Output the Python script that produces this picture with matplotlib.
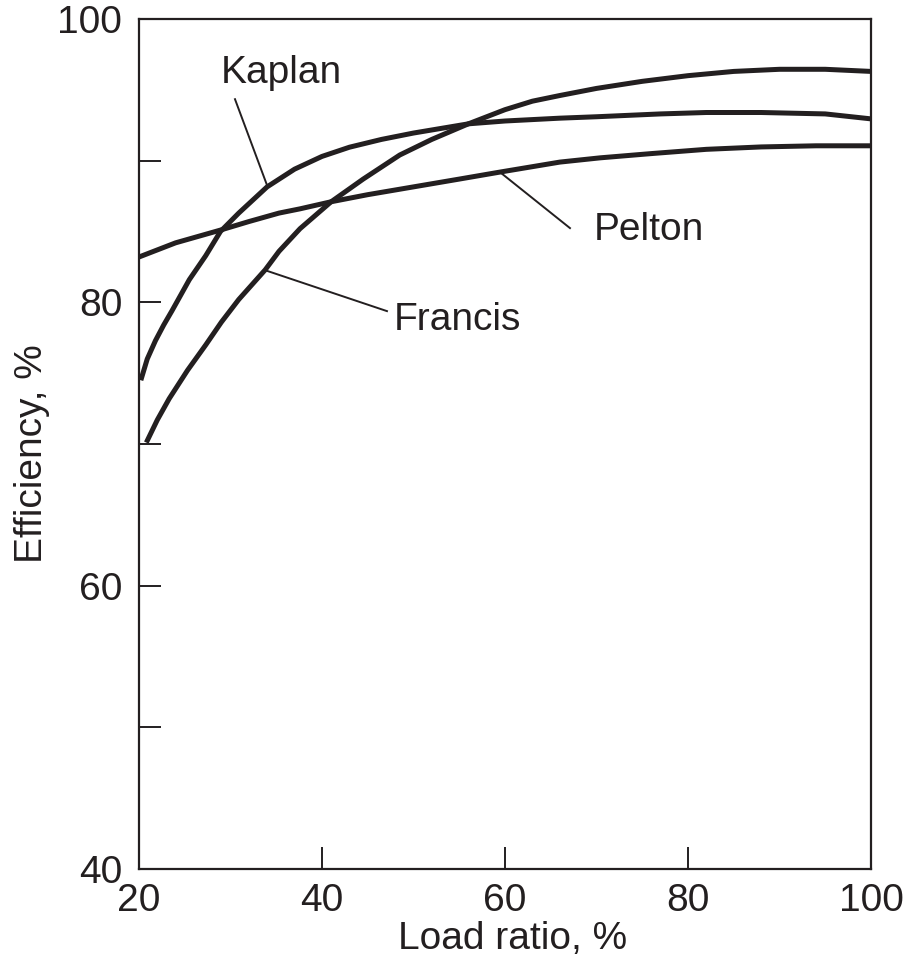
import matplotlib
matplotlib.use("Agg")
import matplotlib.pyplot as plt

plt.rcParams['font.family'] = ['Liberation Sans', 'DejaVu Sans']

INK = '#231f20'

# ---- data ----
francis_x = [20.8, 22.0, 23.3, 25.3, 27.3, 29.0, 30.9, 33.8, 35.3, 37.6, 41.0, 44.5, 48.5,
             52.0, 56.0, 60.0, 63.0, 66.0, 70.0, 75.0, 80.0, 85.0, 90.0, 95.0, 100.0]
francis_y = [70.1, 71.7, 73.2, 75.2, 77.0, 78.6, 80.2, 82.3, 83.6, 85.2, 87.1, 88.7, 90.4,
             91.5, 92.6, 93.6, 94.2, 94.6, 95.1, 95.6, 96.0, 96.3, 96.45, 96.45, 96.3]

kaplan_x = [20.2, 20.9, 21.8, 22.7, 23.6, 25.5, 27.3, 28.9, 30.9, 34.0, 37.0, 40.0, 43.0,
            46.5, 50.0, 56.0, 60.0, 66.0, 70.0, 77.0, 82.0, 88.0, 95.0, 100.0]
kaplan_y = [74.5, 76.0, 77.3, 78.4, 79.4, 81.6, 83.3, 85.0, 86.3, 88.15, 89.4, 90.3, 90.95,
            91.5, 91.95, 92.6, 92.8, 93.0, 93.1, 93.3, 93.4, 93.4, 93.3, 92.95]

pelton_x = [20.0, 24.0, 28.9, 32.0, 35.3, 37.6, 41.0, 45.0, 50.0, 55.0, 59.5, 66.0,
            70.4, 76.0, 82.0, 88.0, 94.0, 100.0]
pelton_y = [83.2, 84.2, 85.1, 85.7, 86.3, 86.6, 87.1, 87.6, 88.15, 88.7, 89.2, 89.9,
            90.2, 90.5, 90.8, 90.97, 91.05, 91.05]

x_ticks = [20, 40, 60, 80, 100]
y_ticks = [40, 50, 60, 70, 80, 90, 100]
y_ticklabels = ['40', '', '60', '', '80', '', '100']

# curve labels with leader lines
label_names = ['Kaplan', 'Pelton', 'Francis']
label_text_x = [35.6, 75.7, 54.8]
label_text_y = [95.47, 84.39, 78.04]
leader_from_x = [30.49, 59.45, 33.77]
leader_from_y = [94.34, 89.19, 82.27]
leader_to_x = [33.99, 67.10, 47.10]
leader_to_y = [88.27, 85.24, 79.38]

FS = 28

# ---- figure ----
fig = plt.figure(figsize=(9.04, 9.58), dpi=100)
ax = fig.add_axes([139 / 904, 1 - 869 / 958, (871 - 139) / 904, (869 - 19) / 958])

for xs, ys in [(francis_x, francis_y), (kaplan_x, kaplan_y), (pelton_x, pelton_y)]:
    ax.plot(xs, ys, color=INK, lw=3.6, solid_capstyle='butt', solid_joinstyle='round')

for name, tx, ty, x0, y0, x1, y1 in zip(label_names, label_text_x, label_text_y,
                                         leader_from_x, leader_from_y, leader_to_x, leader_to_y):
    ax.plot([x0, x1], [y0, y1], color=INK, lw=1.4)
    ax.text(tx, ty, name, ha='center', va='baseline', fontsize=FS, color=INK)

ax.set_xlim(20, 100)
ax.set_ylim(40, 100)
ax.set_xticks(x_ticks)
ax.set_xticklabels([str(v) for v in x_ticks])
ax.set_yticks(y_ticks)
ax.set_yticklabels(y_ticklabels)

for s in ax.spines.values():
    s.set_linewidth(1.6)
    s.set_color(INK)

ax.tick_params(axis='both', direction='in', length=16, width=1.4, colors=INK,
               labelsize=FS, labelcolor=INK)
ax.tick_params(axis='x', pad=10)
ax.tick_params(axis='y', pad=12)

ax.set_xlabel('Load ratio, %', fontsize=FS, color=INK, va='baseline')
ax.set_ylabel('Efficiency, %', fontsize=FS, color=INK)
ax.xaxis.set_label_coords(0.511, -0.0945, transform=ax.transAxes)
ax.yaxis.set_label_coords(-0.121, 0.489, transform=ax.transAxes)

fig.savefig('out.png', dpi=100)
